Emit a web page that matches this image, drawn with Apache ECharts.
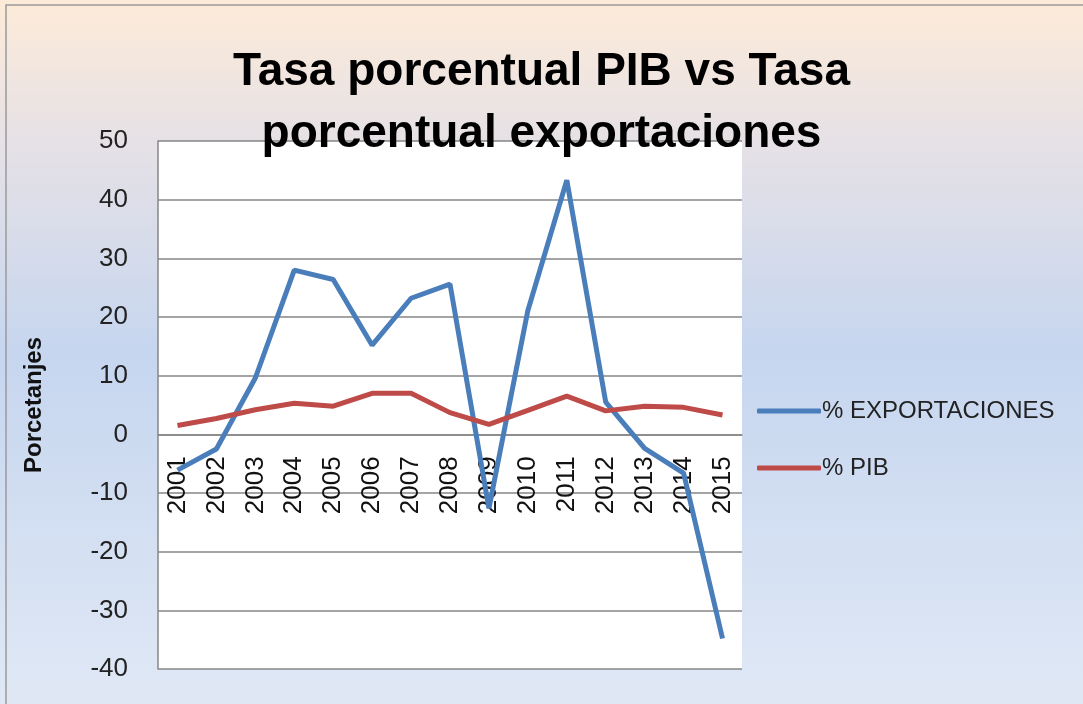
<!DOCTYPE html>
<html>
<head>
<meta charset="utf-8">
<script src="https://cdn.jsdelivr.net/npm/echarts@6/dist/echarts.min.js"></script>
<style>
  html, body { margin: 0; padding: 0; }
  #main { width: 1083px; height: 704px; }
</style>
</head>
<body>
<div id="main"></div>
<script>
var years = ['2001','2002','2003','2004','2005','2006','2007','2008','2009','2010','2011','2012','2013','2014','2015'];
var exportaciones = [-6.1, -2.5, 9.6, 28.0, 26.4, 15.2, 23.2, 25.6, -12.6, 21.1, 43.3, 5.5, -2.4, -6.6, -34.8];
var pib = [1.5, 2.7, 4.2, 5.3, 4.8, 7.0, 7.0, 3.7, 1.7, 4.1, 6.5, 4.0, 4.8, 4.6, 3.3];

var myChart = echarts.init(document.getElementById('main'));
var font = 'Liberation Sans';
// the x axis sits at value 0; grid height 528 for a range of 90, 0 lies 40 units above the bottom
var zeroOffset = -(528 * 40 / 90);
myChart.setOption({
  backgroundColor: new echarts.graphic.LinearGradient(0, 0, 0, 1, [
    { offset: 0, color: '#fdebd8' },
    { offset: 0.2, color: '#e6e1e6' },
    { offset: 0.5, color: '#c6d6ef' },
    { offset: 1, color: '#e0e8f5' }
  ]),
  graphic: [{
    type: 'rect',
    shape: { x: 6, y: 5, width: 1100, height: 720 },
    style: { fill: 'none', stroke: '#9a9a9a', lineWidth: 1.5 },
    silent: true
  }],
  title: {
    text: 'Tasa porcentual PIB vs Tasa\nporcentual exportaciones',
    left: 'center',
    top: 36,
    z: 10,
    textStyle: { fontFamily: font, fontSize: 46, fontWeight: 'bold', color: '#000', lineHeight: 62 }
  },
  legend: {
    orient: 'vertical',
    left: 752,
    top: 394,
    icon: 'roundRect',
    itemWidth: 64,
    itemHeight: 5,
    itemGap: 33,
    textStyle: { fontFamily: font, fontSize: 24, color: '#222', padding: [0, 0, 0, -4] },
    data: ['% EXPORTACIONES', '% PIB']
  },
  grid: {
    left: 158, top: 141, right: 341, bottom: 35,
    outerBoundsMode: 'none',
    containLabel: false,
    show: true, backgroundColor: '#fff', borderWidth: 0
  },
  xAxis: {
    type: 'category',
    data: years,
    boundaryGap: true,
    position: 'bottom',
    offset: zeroOffset,
    z: 1,
    axisLine: { onZero: false, lineStyle: { color: '#868686', width: 1.5 } },
    axisTick: { show: false },
    axisLabel: { rotate: 90, margin: 22, fontFamily: font, fontSize: 26, color: '#111' }
  },
  yAxis: {
    type: 'value',
    min: -40, max: 50, interval: 10,
    name: 'Porcetanjes',
    nameLocation: 'middle',
    nameGap: 112,
    z: 1,
    nameTextStyle: { fontFamily: font, fontSize: 24, fontWeight: 'bold', color: '#111' },
    axisLine: { show: true, lineStyle: { color: '#868686', width: 1.5 } },
    axisTick: { show: false },
    axisLabel: { margin: 30, fontFamily: font, fontSize: 26, color: '#222' },
    splitLine: { lineStyle: { color: '#868686', width: 1.5 } }
  },
  series: [{
    name: '% EXPORTACIONES',
    type: 'line',
    data: exportaciones,
    symbol: 'none',
    z: 4,
    itemStyle: { color: '#4a7ebb' },
    lineStyle: { color: '#4a7ebb', width: 5 }
  }, {
    name: '% PIB',
    type: 'line',
    data: pib,
    symbol: 'none',
    z: 4,
    itemStyle: { color: '#be4b48' },
    lineStyle: { color: '#be4b48', width: 5 }
  }]
});
</script>
</body>
</html>
